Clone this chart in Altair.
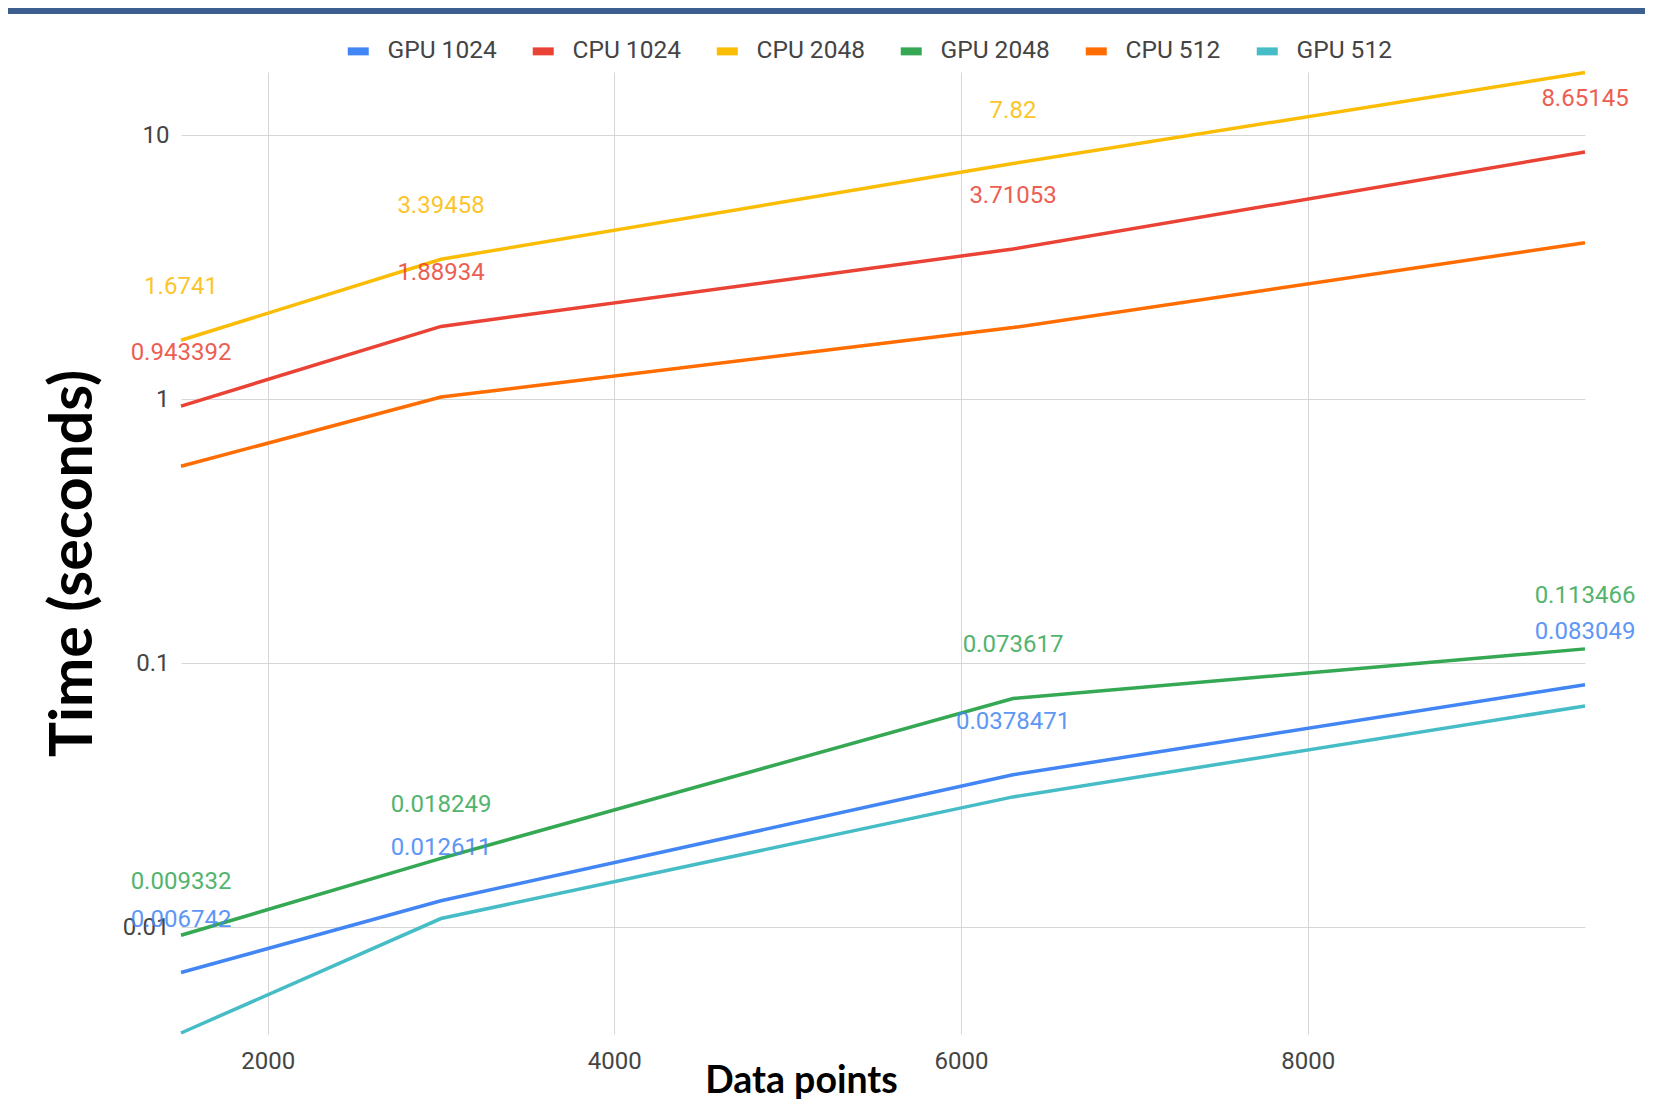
import altair as alt
import pandas as pd

# ---- data ----
x_points = [1500, 3000, 6300, 9600]
series_names = ["GPU 1024", "CPU 1024", "CPU 2048", "GPU 2048", "CPU 512", "GPU 512"]
series_colors = ["#4285F4", "#EA4335", "#FBBC04", "#34A853", "#FF6D01", "#46BDC6"]

gpu_1024 = [0.006742, 0.012611, 0.0378471, 0.083049]
cpu_1024 = [0.943392, 1.88934, 3.71053, 8.65145]
cpu_2048 = [1.6741, 3.39458, 7.82, 17.3]
gpu_2048 = [0.009332, 0.018249, 0.073617, 0.113466]
cpu_512 = [0.558, 1.02, 1.87, 3.92]
gpu_512 = [0.00398, 0.0108, 0.0312, 0.069]

# which points carry a data label
labels_gpu_1024 = [True, True, True, True]
labels_cpu_1024 = [True, True, True, True]
labels_cpu_2048 = [True, True, True, False]
labels_gpu_2048 = [True, True, True, True]
labels_cpu_512 = [False, False, False, False]
labels_gpu_512 = [False, False, False, False]

y_ticks = [0.01, 0.1, 1, 10]
x_ticks = [2000, 4000, 6000, 8000]

series_values = [gpu_1024, cpu_1024, cpu_2048, gpu_2048, cpu_512, gpu_512]
series_labels = [labels_gpu_1024, labels_cpu_1024, labels_cpu_2048,
                 labels_gpu_2048, labels_cpu_512, labels_gpu_512]

rows = []
for name, vals, labs in zip(series_names, series_values, series_labels):
    for x, v, show in zip(x_points, vals, labs):
        rows.append({"series": name, "points": x, "time": v,
                     "label": str(v) if show else ""})
df = pd.DataFrame(rows)

color_scale = alt.Scale(domain=series_names, range=series_colors)
x_enc = alt.X("points:Q",
              scale=alt.Scale(domain=[1500, 9600], nice=False, zero=False),
              axis=alt.Axis(values=x_ticks, format="d", title="Data points",
                            titleFont="Lato", titleFontSize=37.5, titleFontWeight="bold",
                            titleColor="#000000", titleX=620, titleY=58,
                            titleAlign="center", titleBaseline="alphabetic",
                            labelPadding=15))
y_enc = alt.Y("time:Q",
              scale=alt.Scale(type="log", domain=[0.003945, 17.38], nice=False),
              axis=alt.Axis(values=y_ticks, format="~g", title="Time (seconds)",
                            titleFont="Lato", titleFontSize=59, titleFontWeight="bold",
                            titleColor="#000000", titleAngle=270, titleX=-108, titleY=491,
                            titleAlign="center", titleBaseline="middle",
                            labelPadding=12))

base = alt.Chart(df)

lines = base.mark_line(strokeWidth=3.5).encode(
    x=x_enc,
    y=y_enc,
    color=alt.Color("series:N", scale=color_scale, sort=series_names,
                    legend=alt.Legend(title=None, orient="none", direction="horizontal",
                                      legendX=165, legendY=-33,
                                      symbolType="M-1,-0.38H1V0.38H-1Z", symbolSize=441,
                                      symbolStrokeWidth=0,
                                      labelFont="Roboto", labelFontSize=24.5,
                                      labelColor="#444444", labelOffset=17,
                                      columnPadding=34)),
    detail="series:N",
)

text = base.transform_filter("datum.label != ''").mark_text(
    dy=-53, fontSize=24, font="Roboto", opacity=0.85
).encode(
    x=alt.X("points:Q"),
    y=alt.Y("time:Q"),
    text="label:N",
    color=alt.Color("series:N", scale=color_scale, legend=None),
)

top_bar = alt.Chart(pd.DataFrame({"a": [0]})).mark_rule(
    color="#3d5f8f", strokeWidth=6
).encode(x=alt.value(-173), x2=alt.value(1464), y=alt.value(-61))

chart = alt.layer(top_bar, lines, text).properties(
    width=1404, height=962,
    autosize=alt.AutoSizeParams(type="none"),
    padding={"left": 173, "top": 64, "right": 60, "bottom": 68},
    background="white",
).configure_view(stroke=None).configure_axis(
    labelFont="Roboto", labelFontSize=24, labelColor="#444444",
    gridColor="#d6d6d6", gridWidth=1, domain=False, ticks=False,
)

chart.save("out.html", embed_options={"renderer": "svg", "actions": False})
